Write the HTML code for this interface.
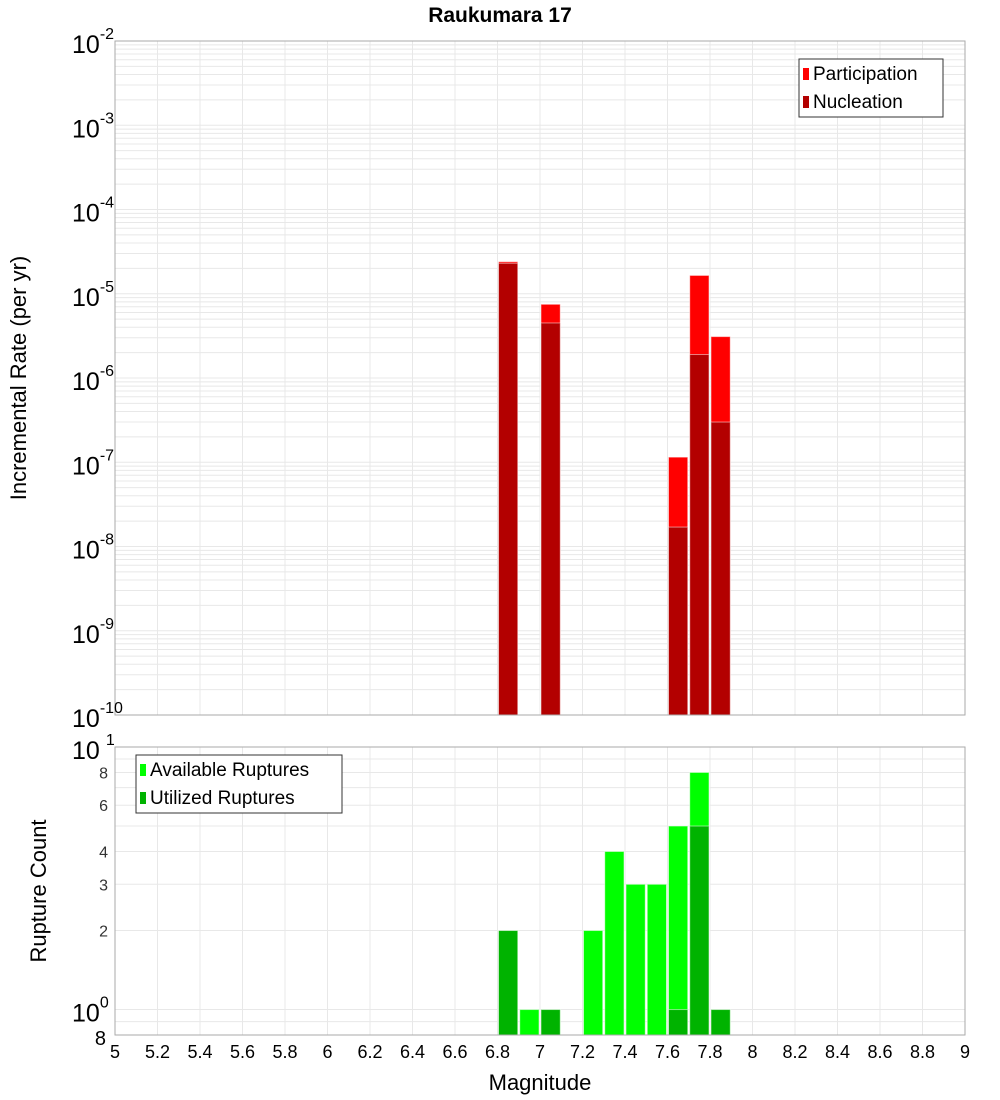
<!DOCTYPE html>
<html><head><meta charset="utf-8"><style>
body{margin:0;background:#fff}
svg{display:block;font-family:"Liberation Sans","DejaVu Sans",sans-serif}
</style></head><body>
<svg id="c" width="1000" height="1100" xmlns="http://www.w3.org/2000/svg"></svg>
<script>
const binCenters=[6.85,6.95,7.05,7.25,7.35,7.45,7.55,7.65,7.75,7.85];
const partMags=[6.85,7.05,7.65,7.75,7.85];
const partVals=[2.4e-5,7.5e-6,1.15e-7,1.65e-5,3.1e-6];
const nuclVals=[2.3e-5,4.5e-6,1.7e-8,1.9e-6,3.0e-7];
const availMags=[6.85,6.95,7.05,7.25,7.35,7.45,7.55,7.65,7.75,7.85];
const availVals=[2,1,1,2,4,3,3,5,8,1];
const utilMags=[6.85,7.05,7.65,7.75,7.85];
const utilVals=[2,1,1,5,1];
const xTicks=[5,5.2,5.4,5.6,5.8,6,6.2,6.4,6.6,6.8,7,7.2,7.4,7.6,7.8,8,8.2,8.4,8.6,8.8,9];
const topExps=[-2,-3,-4,-5,-6,-7,-8,-9,-10];
const botTicks=[8,6,4,3,2];

const S=document.getElementById('c');const NS='http://www.w3.org/2000/svg';
function el(t,a,p){const e=document.createElementNS(NS,t);for(const k in a)e.setAttribute(k,a[k]);(p||S).appendChild(e);return e;}
const X0=115,X1=965;
const x=v=>X0+(v-5)/4*(X1-X0);
const T0=41,T1=715;
const yT=v=>T0+(-2-Math.log10(v))/8*(T1-T0);
const B0=747,B1=1035;
const bTop=10,bBot=0.8;
const yB=v=>B0+(Math.log10(bTop)-Math.log10(v))/(Math.log10(bTop)-Math.log10(bBot))*(B1-B0);

// title
let t=el('text',{x:500,y:22,'text-anchor':'middle','font-size':21,'font-weight':'bold'});t.textContent='Raukumara 17';


// grids
const g=el('g',{stroke:'#e8e8e8','stroke-width':1});

xTicks.forEach(v=>{el('line',{x1:x(v),x2:x(v),y1:T0,y2:T1},g);el('line',{x1:x(v),x2:x(v),y1:B0,y2:B1},g);});
for(let e=-10;e<-2;e++)for(let m=1;m<10;m++){const yy=yT(m*Math.pow(10,e));el('line',{x1:X0,x2:X1,y1:yy,y2:yy},g);}
[0.8,0.9,1,2,3,4,5,6,7,8,9,10].forEach(v=>{const yy=yB(v);el('line',{x1:X0,x2:X1,y1:yy,y2:yy},g);});

// top bars
const bw=0.1*(X1-X0)/4;
function bar(c,v,y,base,fill,name){const yy=y(v);const r=el('rect',{x:x(c)-bw/2+1,y:yy,width:bw-2,height:base-yy,fill:fill,stroke:'#fff','stroke-opacity':0.5,'stroke-width':1});
}
partMags.forEach((m,i)=>bar(m,partVals[i],yT,T1,'#ff0000','participation-bar'));
partMags.forEach((m,i)=>bar(m,nuclVals[i],yT,T1,'#b30000','nucleation-bar'));
availMags.forEach((m,i)=>bar(m,availVals[i],yB,B1,'#00ff00','available-bar'));
utilMags.forEach((m,i)=>bar(m,utilVals[i],yB,B1,'#00b300','utilized-bar'));

// frames
el('rect',{x:X0,y:T0,width:X1-X0,height:T1-T0,fill:'none',stroke:'#aaa'});
el('rect',{x:X0,y:B0,width:X1-X0,height:B1-B0,fill:'none',stroke:'#aaa'});

// top y ticks
topExps.forEach(e=>{const yy=yT(Math.pow(10,e));const tx=el('text',{x:72,y:yy+12,'font-size':25});

tx.innerHTML='10<tspan dy="-14" font-size="16">'+e+'</tspan>';});
// bottom y ticks
let bt=el('text',{x:72,y:B0+12,'font-size':25});bt.innerHTML='10<tspan dx="6" dy="-14" font-size="16">1</tspan>';

bt=el('text',{x:72,y:yB(1)+12,'font-size':25});bt.innerHTML='10<tspan dy="-14" font-size="16">0</tspan>';

bt=el('text',{x:106,y:B1+10,'font-size':20,'text-anchor':'end'});bt.textContent='8';
botTicks.forEach(v=>{const tt=el('text',{x:108,y:yB(v)+6,'font-size':16,'text-anchor':'end',fill:'#333'});tt.textContent=v;
});
// x ticks
xTicks.forEach(v=>{const tt=el('text',{x:x(v),y:1058,'font-size':18,'text-anchor':'middle'});tt.textContent=String(v);
});

// axis titles
let a=el('text',{x:540,y:1090,'font-size':22,'text-anchor':'middle'});a.textContent='Magnitude';

a=el('text',{x:0,y:0,'font-size':22,'text-anchor':'middle',transform:'translate(26,378) rotate(-90)'});a.textContent='Incremental Rate (per yr)';

a=el('text',{x:0,y:0,'font-size':22,'text-anchor':'middle',transform:'translate(46,891) rotate(-90)'});a.textContent='Rupture Count';


// legends
function legend(x0,y0,w,items,name){const lg=el('g',{});
el('rect',{x:x0,y:y0,width:w,height:58,fill:'#fff',stroke:'#333'},lg);
items.forEach((it,i)=>{el('rect',{x:x0+4,y:y0+9+i*28,width:6,height:12,fill:it[1]},lg);
const tt=el('text',{x:x0+14,y:y0+21+i*28,'font-size':19},lg);tt.textContent=it[0];});}
legend(799,59,144,[['Participation','#ff0000'],['Nucleation','#b30000']],'legend-top');
legend(136,755,206,[['Available Ruptures','#00ff00'],['Utilized Ruptures','#00b300']],'legend-bottom');
</script>
</body></html>
